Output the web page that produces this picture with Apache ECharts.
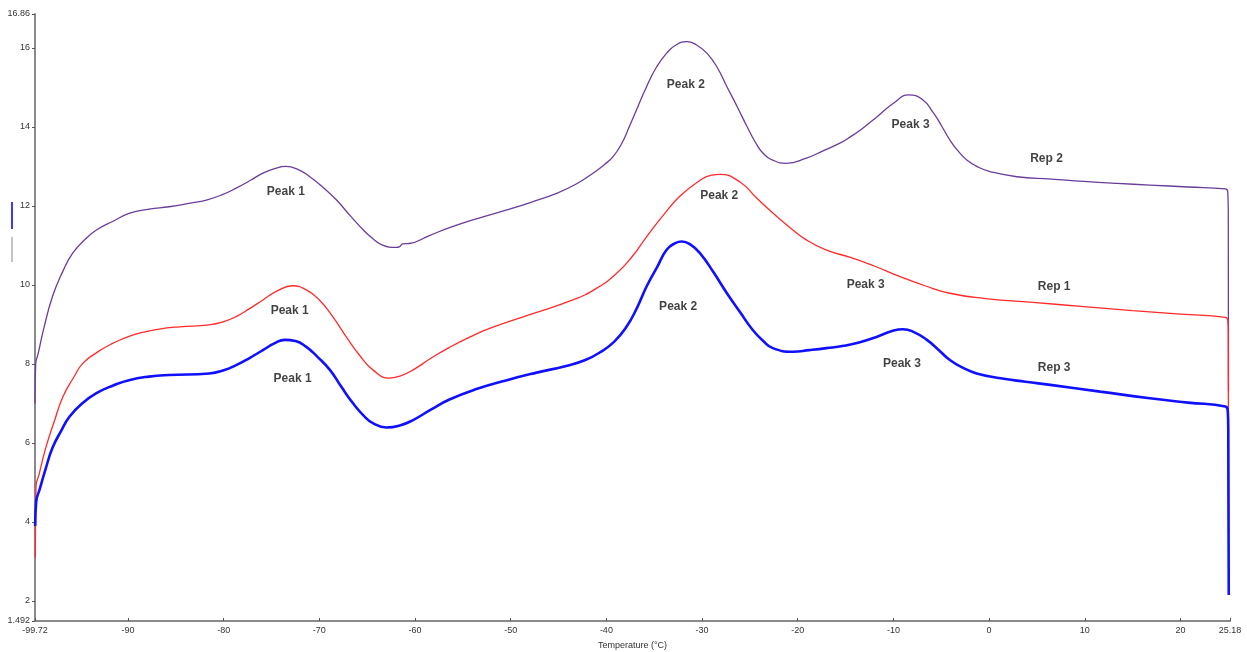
<!DOCTYPE html>
<html>
<head>
<meta charset="utf-8">
<script src="https://cdn.jsdelivr.net/npm/echarts@6/dist/echarts.min.js"></script>
<style>
html,body{margin:0;padding:0;background:#fff;}
#chart{width:1247px;height:652px;}
</style>
</head>
<body>
<div id="chart"></div>
<script>
// Temperature (°C) / Heat flow (mW) pairs
const rep2 = [[-99.72,7.0],[-99.65,8.0],[-99.4,8.25],[-98.8,8.9],[-97.9,9.70],[-96.8,10.35],[-95.8,10.80],[-94.5,11.15],[-93.3,11.39],[-91.5,11.62],[-89.9,11.81],[-87.8,11.92],[-85.7,11.98],[-83.5,12.07],[-81.8,12.15],[-80.2,12.28],[-78.7,12.45],[-77.2,12.65],[-75.9,12.83],[-74.6,12.95],[-73.5,13.0],[-72.2,12.92],[-71.0,12.74],[-69.6,12.47],[-68.2,12.15],[-66.8,11.76],[-65.4,11.39],[-64.3,11.15],[-63.4,11.01],[-62.0,10.95],[-61.6,10.97],[-61.3,11.04],[-60.6,11.05],[-58.5,11.25],[-56.4,11.45],[-53.5,11.68],[-50.4,11.90],[-47.8,12.10],[-45.2,12.32],[-43.2,12.55],[-41.4,12.83],[-40.2,13.05],[-39.3,13.25],[-38.4,13.58],[-37.6,14.01],[-36.7,14.52],[-35.8,15.02],[-34.8,15.5],[-33.7,15.87],[-32.7,16.08],[-31.6,16.16],[-30.6,16.08],[-29.5,15.87],[-28.4,15.5],[-27.4,15.02],[-26.3,14.5],[-25.3,14.01],[-24.4,13.6],[-23.6,13.33],[-22.5,13.15],[-21.2,13.08],[-19.1,13.21],[-17.3,13.40],[-15.6,13.59],[-14.5,13.75],[-13.3,13.95],[-11.7,14.26],[-10.0,14.6],[-8.4,14.81],[-7.0,14.7],[-5.8,14.35],[-4.9,14.0],[-4.1,13.67],[-3.2,13.38],[-2.3,13.16],[-1.1,12.98],[0.1,12.87],[2.9,12.74],[6.5,12.68],[9.9,12.62],[13.4,12.57],[16.8,12.53],[20.8,12.48],[24.7,12.43],[24.95,12.35],[25.0,11.8],[25.02,7.3]];
const rep1 = [[-99.68,3.1],[-99.62,4.9],[-99.3,5.2],[-98.6,5.87],[-97.7,6.55],[-96.8,7.17],[-95.7,7.65],[-94.7,8.02],[-93.2,8.3],[-91.6,8.52],[-89.9,8.7],[-88.1,8.82],[-86.3,8.9],[-84.6,8.94],[-81.5,8.99],[-80.0,9.07],[-78.7,9.20],[-77.3,9.4],[-75.9,9.62],[-74.4,9.85],[-72.8,9.98],[-71.4,9.88],[-70.0,9.62],[-68.6,9.2],[-67.2,8.69],[-65.8,8.22],[-64.4,7.85],[-62.7,7.64],[-61.5,7.7],[-60.2,7.85],[-58.3,8.15],[-56.4,8.42],[-54.3,8.68],[-52.2,8.90],[-48.0,9.25],[-43.5,9.62],[-41.0,9.92],[-38.9,10.30],[-37.3,10.72],[-35.8,11.22],[-34.0,11.78],[-32.3,12.25],[-30.2,12.65],[-29.0,12.78],[-28.1,12.80],[-26.0,12.6],[-24.3,12.2],[-22.6,11.82],[-20.8,11.45],[-19.1,11.14],[-17.0,10.88],[-14.5,10.70],[-12.0,10.48],[-9.3,10.21],[-6.7,9.98],[-4.1,9.79],[-0.6,9.66],[4.6,9.56],[9.9,9.45],[15.0,9.35],[20.0,9.26],[24.7,9.18],[24.95,9.1],[25.0,8.8],[25.03,3.76]];
const rep3 = [[-99.7,3.9],[-99.6,4.5],[-99.2,4.85],[-98.6,5.35],[-97.9,5.87],[-97.0,6.3],[-96.1,6.67],[-94.8,7.0],[-93.3,7.26],[-91.6,7.45],[-89.9,7.59],[-87.8,7.68],[-85.7,7.72],[-81.5,7.76],[-80.0,7.84],[-78.7,7.97],[-77.3,8.15],[-75.9,8.35],[-74.7,8.52],[-73.6,8.61],[-72.5,8.58],[-71.4,8.44],[-70.2,8.18],[-68.9,7.85],[-67.7,7.42],[-66.5,7.01],[-65.4,6.70],[-64.4,6.50],[-63.0,6.39],[-61.6,6.44],[-60.2,6.58],[-58.3,6.85],[-56.4,7.10],[-53.5,7.37],[-50.4,7.59],[-47.3,7.78],[-44.2,7.95],[-42.2,8.1],[-40.7,8.29],[-39.2,8.56],[-37.9,8.94],[-36.8,9.42],[-35.8,9.96],[-34.7,10.45],[-33.7,10.89],[-32.8,11.06],[-32.1,11.10],[-31.2,11.02],[-30.2,10.80],[-28.8,10.32],[-27.4,9.79],[-26.0,9.30],[-24.7,8.86],[-23.6,8.58],[-22.6,8.40],[-20.5,8.31],[-18.8,8.35],[-17.0,8.40],[-15.2,8.46],[-13.5,8.55],[-11.7,8.69],[-10.3,8.82],[-9.0,8.88],[-7.8,8.80],[-6.5,8.61],[-5.3,8.36],[-4.1,8.10],[-2.7,7.90],[-1.3,7.76],[1.2,7.64],[3.8,7.55],[6.4,7.47],[11.6,7.30],[16.8,7.13],[20.8,7.02],[24.7,6.92],[24.95,6.8],[25.0,6.3],[25.05,2.15]];

// annotation texts and their positions (data coordinates)
const annotations = [
  [-73.5,12.35,'Peak 1'],[-73.1,9.34,'Peak 1'],[-72.8,7.62,'Peak 1'],
  [-31.7,15.06,'Peak 2'],[-28.2,12.25,'Peak 2'],[-32.5,9.44,'Peak 2'],
  [-8.2,14.05,'Peak 3'],[-12.9,10.0,'Peak 3'],[-9.1,8.0,'Peak 3'],
  [6.0,13.19,'Rep 2'],[6.8,9.95,'Rep 1'],[6.8,7.90,'Rep 3']
];

const xMin = -99.72, xMax = 25.18;
const yMin = 1.492, yMax = 16.86;
const xTicks = [-99.72,-90,-80,-70,-60,-50,-40,-30,-20,-10,0,10,20,25.18];
const yTicks = [1.492,2,4,6,8,10,12,14,16,16.86];

const chart = echarts.init(document.getElementById('chart'), null, {renderer:'canvas'});
const font = 'Liberation Sans, Arial, sans-serif';
chart.setOption({
  animation:false,
  backgroundColor:'#fff',
  grid:{left:35,right:17,top:14,bottom:31,containLabel:false,outerBoundsMode:'none'},
  xAxis:{
    type:'value',min:xMin,max:xMax,
    name:'Temperature (°C)',nameLocation:'middle',nameGap:20,
    nameTextStyle:{fontFamily:font,fontSize:9,color:'#333'},
    axisLine:{show:true,onZero:false,lineStyle:{color:'#8a8a8a',width:2}},
    axisTick:{show:true,inside:true,length:3,customValues:xTicks,lineStyle:{color:'#555'}},
    axisLabel:{customValues:xTicks,fontFamily:font,fontSize:9,color:'#333',margin:5,formatter:v=>String(v)},
    splitLine:{show:false}
  },
  yAxis:{
    type:'value',min:yMin,max:yMax,
    name:'Heat Flow Endo Up (mW)',nameLocation:'middle',nameGap:20,
    nameTextStyle:{fontFamily:font,fontSize:9,color:'#333'},
    axisLine:{show:true,onZero:false,lineStyle:{color:'#8a8a8a',width:2}},
    axisTick:{show:true,length:3,customValues:yTicks,lineStyle:{color:'#555'}},
    axisLabel:{customValues:yTicks,fontFamily:font,fontSize:9,color:'#333',margin:5,formatter:v=>String(v)},
    splitLine:{show:false}
  },
  graphic:[
    {type:'line',shape:{x1:12,y1:202,x2:12,y2:229},style:{stroke:'#3a3aff',lineWidth:2}},
    {type:'line',shape:{x1:12,y1:237,x2:12,y2:262},style:{stroke:'#888',lineWidth:1}}
  ],
  series:[
    {name:'Rep 2',type:'line',data:rep2,showSymbol:false,smooth:0.5,
     lineStyle:{color:'#6a3d9a',width:1.3},itemStyle:{color:'#6a3d9a'}},
    {name:'Rep 1',type:'line',data:rep1,showSymbol:false,smooth:0.5,
     lineStyle:{color:'#ff2a2a',width:1.3},itemStyle:{color:'#ff2a2a'}},
    {name:'Rep 3',type:'line',data:rep3,showSymbol:false,smooth:0.5,
     lineStyle:{color:'#1010ff',width:2.6},itemStyle:{color:'#1010ff'}},
    {name:'labels',type:'scatter',data:annotations,symbolSize:1,
     itemStyle:{color:'rgba(0,0,0,0)'},
     label:{show:true,position:'inside',formatter:p=>p.data[2],
       fontFamily:font,fontSize:12,fontWeight:'bold',color:'#111'}}
  ]
});
</script>
</body>
</html>
